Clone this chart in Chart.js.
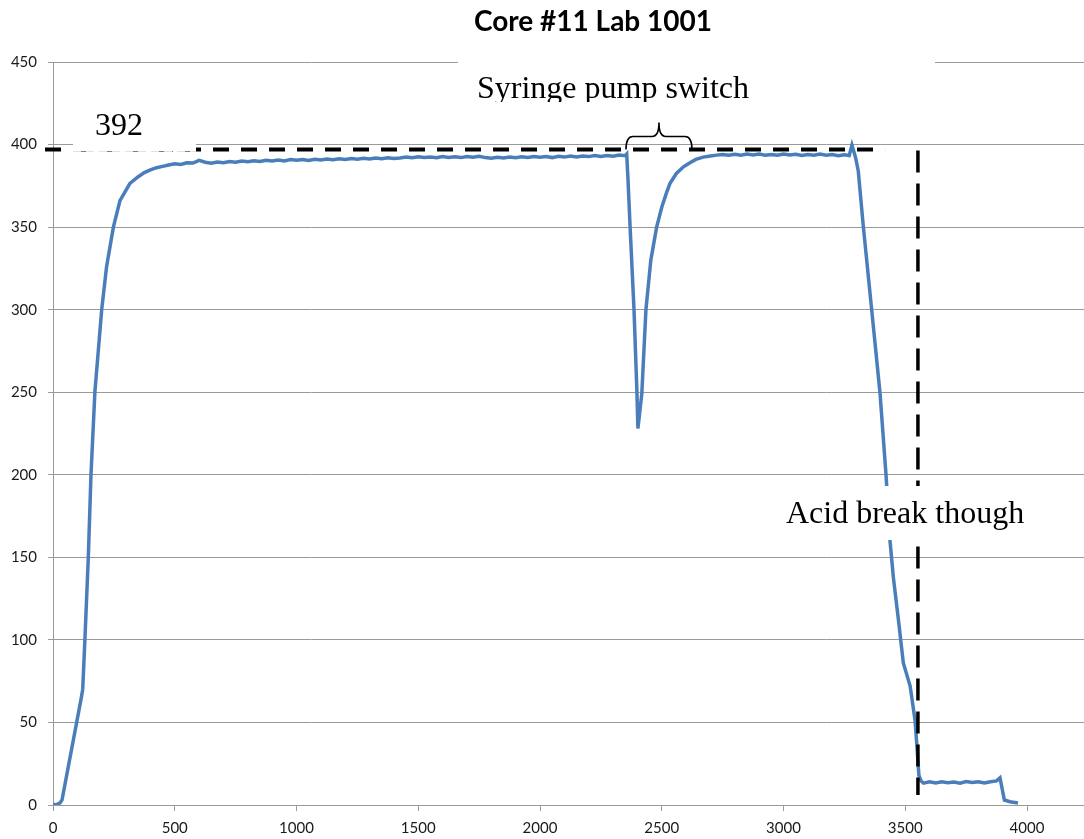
<!DOCTYPE html>
<html>
<head>
<meta charset="utf-8">
<title>Core #11 Lab 1001</title>
<script src="https://cdn.jsdelivr.net/npm/chart.js@4.4.1/dist/chart.umd.min.js"></script>
<style>
  html, body { margin: 0; padding: 0; background: #fff; }
  #wrap { width: 1084px; height: 839px; position: relative; }
</style>
</head>
<body>
<div id="wrap"><canvas id="coreChart" width="1084" height="839"></canvas></div>
<script>
// readings taken off the original plot (time, value)
const timeVals = [
  0, 15, 28, 37, 115, 122, 131, 145, 156, 172, 200, 220, 248, 275, 316, 350, 375,
  400, 425, 450, 475, 500, 525, 550, 575, 600, 625, 650, 675, 700, 725, 750, 775,
  800, 825, 850, 875, 900, 925, 950, 975, 1000, 1025, 1050, 1075, 1100, 1125, 1150, 1175,
  1200, 1225, 1250, 1275, 1300, 1325, 1350, 1375, 1400, 1425, 1450, 1475, 1500, 1525, 1550, 1575,
  1600, 1625, 1650, 1675, 1700, 1725, 1750, 1775, 1800, 1825, 1850, 1875, 1900, 1925, 1950, 1975,
  2000, 2025, 2050, 2075, 2100, 2125, 2150, 2175, 2200, 2225, 2250, 2275, 2300, 2325, 2350,
  2356, 2361, 2370, 2386, 2398, 2402, 2418, 2435, 2455, 2479, 2500, 2520, 2534, 2560, 2589,
  2616, 2640, 2670, 2700, 2725, 2750,
  2775, 2800, 2825, 2850, 2875, 2900, 2925, 2950, 2975, 3000, 3025, 3050, 3075, 3100, 3125,
  3150, 3175, 3200, 3225, 3250, 3270, 3281, 3296, 3307, 3328, 3362, 3396, 3421, 3437, 3451,
  3472, 3492, 3520, 3540, 3547, 3556, 3565,
  3575, 3600, 3625, 3650, 3675, 3700, 3725, 3750, 3775, 3800, 3825, 3850, 3875, 3889, 3895,
  3907, 3930, 3950, 3963
];
const readingVals = [
  0.3, 0.2, 1.2, 3, 64, 70, 100, 150, 200, 250, 300, 326, 350, 366, 376.5, 380.5, 383,
  384.6, 386.0, 386.8, 387.6, 388.3, 387.9, 389.0, 388.8, 390.4, 389.3, 388.7, 389.4, 389.0, 389.7, 389.3, 390.0,
  389.6, 390.2, 389.8, 390.5, 390.0, 390.6, 390.1, 390.9, 390.5, 390.9, 390.3, 391.1, 390.6, 391.2, 390.8, 391.4,
  390.9, 391.6, 391.1, 391.7, 391.2, 391.9, 391.4, 392.0, 391.6, 391.9, 392.4, 392.0, 392.6, 392.1, 392.5, 392.0,
  392.7, 392.2, 392.6, 392.1, 392.8, 392.3, 392.9, 392.1, 391.7, 392.3, 391.9, 392.5, 392.0, 392.6, 392.2, 392.8,
  392.3, 392.7, 392.1, 392.9, 392.4, 393.0, 392.5, 393.1, 392.7, 393.3, 392.8, 393.4, 392.9, 393.6, 393.2,
  394.2, 380, 350, 300, 250, 228, 249, 300, 330, 350, 362, 371, 376.5, 382.5, 386.5,
  389, 391, 392.4, 393.1, 393.6, 393.9,
  393.5, 394.1, 393.6, 394.3, 393.7, 394.2, 393.5, 394.0, 393.6, 394.3, 393.7, 394.1, 393.4, 394.0, 393.6,
  394.2, 393.5, 393.9, 393.3, 393.8, 393.4, 399.7, 392, 384, 350, 300, 250, 200, 160.5, 138,
  112, 86, 72, 51.5, 37.5, 18, 14.5,
  13.2, 14.0, 13.3, 14.1, 13.5, 13.9, 13.2, 14.2, 13.6, 14.0, 13.4, 14.1, 14.6, 16.4, 12,
  3, 2, 1.5, 1.2
];
const xTickVals = [0, 500, 1000, 1500, 2000, 2500, 3000, 3500, 4000];
const yTickVals = [0, 50, 100, 150, 200, 250, 300, 350, 400, 450];

const titleText = 'Core #11 Lab 1001';
const plateauLevel = 397;      // dashed reference line
const plateauLineEnd = 3417;
const plateauLabel = '392';
const breakTime = 3552;        // vertical dashed line
const breakBottom = 6;
const braceFrom = 2353;
const braceTo = 2624;

const axisGray = '#9a9a9a';
const tickFont = { family: 'Lato', size: 15 };

// dashed lines, brace, white text boxes and labels on top of the plot
const annotate = {
  id: 'annotate',
  afterDraw(chart) {
    const { ctx, chartArea, scales: { x, y } } = chart;
    const yLine = y.getPixelForValue(plateauLevel);
    const xBreak = x.getPixelForValue(breakTime);
    ctx.save();
    ctx.strokeStyle = '#000';
    ctx.lineCap = 'butt';

    ctx.lineWidth = 4;
    ctx.setLineDash([16, 12]);
    ctx.beginPath();
    ctx.moveTo(chartArea.left - 8, yLine);
    ctx.lineTo(x.getPixelForValue(plateauLineEnd), yLine);
    ctx.stroke();

    ctx.lineWidth = 3.5;
    ctx.setLineDash([22, 11]);
    ctx.beginPath();
    ctx.moveTo(xBreak, yLine + 1);
    ctx.lineTo(xBreak, y.getPixelForValue(breakBottom));
    ctx.stroke();

    // curly brace over the pump switch
    const b1 = x.getPixelForValue(braceFrom);
    const b2 = x.getPixelForValue(braceTo);
    const bm = (b1 + b2) / 2;
    const arm = yLine - 13;
    const tip = yLine - 27;
    ctx.setLineDash([]);
    ctx.lineWidth = 1.6;
    ctx.beginPath();
    ctx.moveTo(b1, yLine);
    ctx.quadraticCurveTo(b1, arm, b1 + 7, arm);
    ctx.lineTo(bm - 7, arm);
    ctx.quadraticCurveTo(bm, arm, bm, tip);
    ctx.quadraticCurveTo(bm, arm, bm + 7, arm);
    ctx.lineTo(b2 - 7, arm);
    ctx.quadraticCurveTo(b2, arm, b2, yLine);
    ctx.stroke();

    // text boxes
    ctx.fillStyle = '#fff';
    ctx.fillRect(458, 50, 477, 52);
    ctx.fillRect(73, 100, 123, 51);
    ctx.fillRect(780, 486, 252, 54);
    ctx.strokeStyle = '#e2e2e2';
    ctx.lineWidth = 1;
    ctx.setLineDash([8, 5]);
    ctx.beginPath();
    ctx.moveTo(73, 151.5);
    ctx.lineTo(196, 151.5);
    ctx.stroke();

    ctx.fillStyle = '#000';
    ctx.font = '32px "Liberation Serif"';
    ctx.textAlign = 'left';
    ctx.textBaseline = 'alphabetic';
    ctx.save();
    ctx.beginPath();
    ctx.rect(458, 50, 477, 52);
    ctx.clip();
    ctx.fillText('Syringe pump switch', 477, 98);
    ctx.restore();
    ctx.fillText(plateauLabel, 95, 135);
    ctx.fillText('Acid break though', 786, 523);

    ctx.font = 'bold 28px Lato';
    ctx.textAlign = 'center';
    ctx.fillText(titleText, 593, 31);
    ctx.restore();
  }
};

const points = timeVals.map((t, i) => ({ x: t, y: readingVals[i] }));

new Chart(document.getElementById('coreChart'), {
  type: 'line',
  data: {
    datasets: [{
      data: points,
      borderColor: '#4a7ebb',
      borderWidth: 3.5,
      pointRadius: 0,
      tension: 0,
      fill: false
    }]
  },
  options: {
    responsive: false,
    animation: false,
    devicePixelRatio: 1,
    layout: { padding: { top: 62, left: 0, right: 0, bottom: 0 } },
    plugins: {
      legend: { display: false },
      title: { display: false },
      tooltip: { enabled: false }
    },
    scales: {
      x: {
        type: 'linear',
        min: 0,
        max: 4234,
        afterBuildTicks: s => { s.ticks = xTickVals.map(v => ({ value: v })); },
        afterFit: s => { s.height = 34; },
        grid: { drawOnChartArea: false, tickLength: 6, color: axisGray },
        border: { color: axisGray },
        ticks: {
          font: tickFont, color: '#1a1a1a', padding: 8, maxRotation: 0, autoSkip: false,
          callback: v => String(v)
        }
      },
      y: {
        min: 0,
        max: 450,
        afterBuildTicks: s => { s.ticks = yTickVals.map(v => ({ value: v })); },
        afterFit: s => { s.width = 53; },
        grid: { tickLength: 5, color: axisGray },
        border: { color: axisGray },
        ticks: { font: tickFont, color: '#1a1a1a', padding: 11 }
      }
    }
  },
  plugins: [annotate]
});
</script>
</body>
</html>
